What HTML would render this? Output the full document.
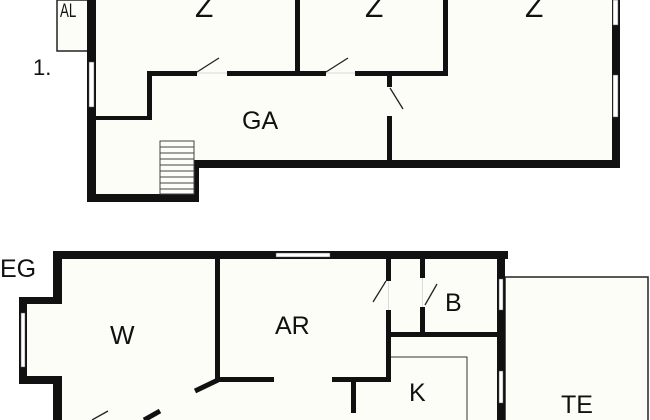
<!DOCTYPE html>
<html><head><meta charset="utf-8"><style>
html,body{margin:0;padding:0;background:#fff;}
svg{display:block;}
text{font-family:"Liberation Sans",sans-serif;fill:#111;}
</style></head><body>
<svg width="650" height="420" viewBox="0 0 650 420" xmlns="http://www.w3.org/2000/svg">
<path d="M92 0 H618 V164 H195 V198 H92 Z" fill="#fdfdf7"/>
<rect x="57" y="0" width="31" height="51" fill="#fdfdf7" stroke="#222" stroke-width="1.5"/>
<text transform="translate(60,17) scale(0.7,1)" font-size="19">AL</text>
<text x="33" y="75" font-size="22">1.</text>
<g fill="#111">
<rect x="87" y="0" width="9" height="202"/>
<rect x="87" y="194" width="112" height="8"/>
<rect x="191" y="160" width="8" height="42"/>
<rect x="191" y="160" width="429" height="8"/>
<rect x="612" y="0" width="8" height="168"/>
<rect x="295" y="0" width="5" height="75"/>
<rect x="443" y="0" width="5" height="75"/>
<rect x="147" y="71" width="301" height="5"/>
<rect x="147" y="71" width="5" height="49"/>
<rect x="92" y="116" width="60" height="4"/>
<rect x="387" y="75" width="5" height="88"/>
</g>
<rect x="89" y="62" width="5" height="45" fill="#fff" stroke="#555" stroke-width="0.5"/>
<rect x="613" y="0" width="5" height="25" fill="#fff" stroke="#555" stroke-width="0.5"/>
<rect x="613" y="75" width="5" height="42" fill="#fff" stroke="#555" stroke-width="0.5"/>
<rect x="197" y="70" width="30" height="7" fill="#fdfdf7"/>
<rect x="326" y="70" width="29" height="7" fill="#fdfdf7"/>
<rect x="386" y="87" width="7" height="29" fill="#fdfdf7"/>
<line x1="197" y1="73" x2="227" y2="73" stroke="#ccc" stroke-width="0.7"/>
<line x1="326" y1="73" x2="355" y2="73" stroke="#ccc" stroke-width="0.7"/>
<line x1="197" y1="72" x2="219" y2="58" stroke="#222" stroke-width="1.3"/>
<line x1="326" y1="72" x2="348" y2="58" stroke="#222" stroke-width="1.3"/>
<line x1="390" y1="88" x2="403" y2="109" stroke="#222" stroke-width="1.3"/>
<rect x="160" y="141" width="34" height="53" fill="#fdfdf7" stroke="#444" stroke-width="1"/>
<g stroke="#444" stroke-width="1">
<line x1="160" y1="147" x2="194" y2="147"/><line x1="160" y1="153" x2="194" y2="153"/>
<line x1="160" y1="159" x2="194" y2="159"/><line x1="160" y1="165" x2="194" y2="165"/>
<line x1="160" y1="171" x2="194" y2="171"/><line x1="160" y1="177" x2="194" y2="177"/>
<line x1="160" y1="183" x2="194" y2="183"/><line x1="160" y1="189" x2="194" y2="189"/>
</g>
<text x="195" y="17" font-size="30">Z</text>
<text x="365" y="17" font-size="30">Z</text>
<text x="525" y="17" font-size="30">Z</text>
<text x="242" y="129" font-size="25">GA</text>

<rect x="505" y="277" width="143" height="150" fill="#fdfdf7" stroke="#222" stroke-width="1.5"/>
<path d="M57 255 H501 V420 H57 V380 H23 V300 H57 Z" fill="#fdfdf7"/>
<g fill="#111">
<rect x="53" y="251" width="455" height="8"/>
<rect x="53" y="251" width="9" height="53"/>
<rect x="19" y="297" width="43" height="7"/>
<rect x="19" y="297" width="8" height="87"/>
<rect x="19" y="376" width="43" height="8"/>
<rect x="53" y="376" width="9" height="44"/>
<rect x="497" y="251" width="8" height="169"/>
<rect x="215" y="258" width="5" height="124"/>
<rect x="215" y="377" width="59" height="5"/>
<rect x="332" y="377" width="58" height="5"/>
<rect x="351" y="380" width="5" height="33"/>
<rect x="386" y="258" width="5" height="124"/>
<rect x="420" y="258" width="5" height="78"/>
<rect x="386" y="332" width="115" height="5"/>
</g>
<line x1="218" y1="380" x2="195" y2="391" stroke="#111" stroke-width="5"/>
<line x1="144" y1="420" x2="160" y2="411" stroke="#111" stroke-width="5"/>
<line x1="92" y1="420" x2="108" y2="411" stroke="#222" stroke-width="1.3"/>
<rect x="276" y="253" width="54" height="4" fill="#fff" stroke="#555" stroke-width="0.5"/>
<rect x="21" y="313" width="4" height="54" fill="#fff" stroke="#555" stroke-width="0.5"/>
<rect x="499" y="279" width="4" height="31" fill="#fff" stroke="#555" stroke-width="0.5"/>
<rect x="499" y="371" width="4" height="32" fill="#fff" stroke="#555" stroke-width="0.5"/>
<rect x="385" y="281" width="7" height="29" fill="#fdfdf7"/>
<rect x="419" y="278" width="7" height="29" fill="#fdfdf7"/>
<line x1="388.5" y1="281" x2="388.5" y2="310" stroke="#ccc" stroke-width="0.7"/>
<line x1="422.5" y1="278" x2="422.5" y2="307" stroke="#ccc" stroke-width="0.7"/>
<line x1="373" y1="302" x2="386" y2="281" stroke="#222" stroke-width="1.3"/>
<line x1="425" y1="305" x2="437" y2="284" stroke="#222" stroke-width="1.3"/>
<polyline points="391,357 467,357 467,420" fill="none" stroke="#333" stroke-width="1"/>
<text x="0" y="277" font-size="25">EG</text>
<text x="110" y="344" font-size="26">W</text>
<text x="275" y="334" font-size="25">AR</text>
<text x="445" y="311" font-size="25">B</text>
<text x="409" y="401" font-size="25">K</text>
<text x="561" y="413" font-size="25">TE</text>
</svg>
</body></html>
